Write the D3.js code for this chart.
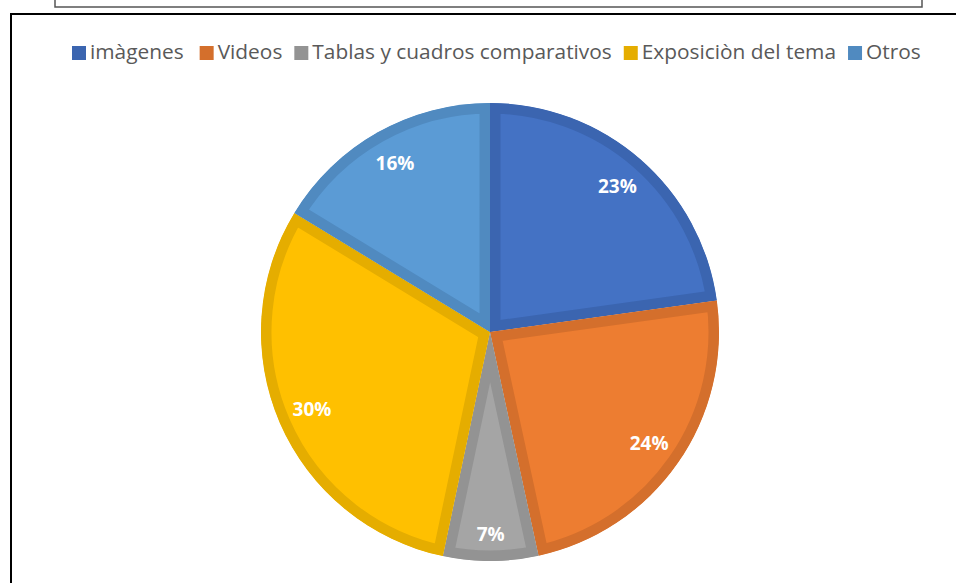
<!DOCTYPE html>
<html>
<head>
<meta charset="utf-8">
<script src="https://cdn.jsdelivr.net/npm/d3@7"></script>
<style>
  html, body { margin: 0; padding: 0; background: #ffffff; }
  svg { display: block; }
</style>
</head>
<body>
<svg id="chart" width="956" height="583"></svg>
<script>
// ---- data ----
const categories = ["imàgenes", "Videos", "Tablas y cuadros comparativos", "Exposiciòn del tema", "Otros"];
const values = [22.8, 23.8, 6.7, 30.4, 16.3];

// ---- styles ----
const fillColors   = ["#4472C4", "#ED7D31", "#A5A5A5", "#FFC000", "#5B9BD5"];
const strokeColors = ["#3B65B0", "#D46F2C", "#939393", "#E5AD00", "#508AC0"];

const svg = d3.select("#chart");

// frames
svg.append("path")
  .attr("d", "M55,-2 L55,7 L922,7 L922,-2")
  .attr("fill", "none").attr("stroke", "#555555").attr("stroke-width", 1.5);
svg.append("path")
  .attr("d", "M11,584 L11,14 L957,14")
  .attr("fill", "none").attr("stroke", "#000000").attr("stroke-width", 2);

// pie
const cx = 490, cy = 332, R = 229, border = 21;
const total = d3.sum(values);
const pie = d3.pie().sort(null).value(d => d)(values);
const arc = d3.arc().innerRadius(0).outerRadius(R);
const labelArc = d3.arc().innerRadius(194).outerRadius(194);
const labelArcNarrow = d3.arc().innerRadius(202).outerRadius(202);
const pct = v => Math.round(v / total * 100) + "%";

const g = svg.append("g").attr("transform", `translate(${cx},${cy})`);
const defs = svg.append("defs");
pie.forEach((p, i) => {
  defs.append("clipPath").attr("id", "clip" + i)
    .append("path").attr("d", arc(p));
});
g.selectAll("path.slice").data(pie).join("path")
  .attr("class", "slice")
  .attr("d", arc)
  .attr("fill", (d, i) => fillColors[i])
  .attr("stroke", (d, i) => strokeColors[i])
  .attr("stroke-width", border)
  .attr("stroke-linejoin", "miter")
  .attr("clip-path", (d, i) => `url(#clip${i})`);

g.selectAll("text.pct").data(pie).join("text")
  .attr("class", "pct")
  .attr("transform", d => {
    const a = (d.endAngle - d.startAngle) < 0.55 ? labelArcNarrow : labelArc;
    return `translate(${a.centroid(d)})`;
  })
  .attr("text-anchor", "middle")
  .attr("dominant-baseline", "central")
  .attr("font-family", "'Open Sans', sans-serif")
  .attr("font-weight", "bold")
  .attr("font-size", 19)
  .attr("fill", "#ffffff")
  .text(d => pct(d.data));

// legend
const legendLeft = 72, legendRight = 921, sq = 14, sqGap = 4;
const itemGaps = [16, 12, 12, 12];
const lg = svg.append("g");
const texts = categories.map(c => lg.append("text")
  .attr("font-family", "'Open Sans', sans-serif")
  .attr("font-size", 20)
  .attr("fill", "#595959")
  .text(c));
// fit font size so the legend spans the same width as the reference
const fixed = categories.length * (sq + sqGap) + d3.sum(itemGaps);
const textW = d3.sum(texts, t => t.node().getComputedTextLength());
const fs = 20 * (legendRight - legendLeft - fixed) / textW;
texts.forEach(t => t.attr("font-size", fs));
let x = legendLeft;
const baseY = 59;
categories.forEach((c, i) => {
  lg.append("rect").attr("x", x).attr("y", 46).attr("width", sq).attr("height", sq)
    .attr("fill", strokeColors[i]);
  x += sq + sqGap;
  texts[i].attr("x", x).attr("y", baseY);
  x += texts[i].node().getComputedTextLength() + (itemGaps[i] || 0);
});
</script>
</body>
</html>
